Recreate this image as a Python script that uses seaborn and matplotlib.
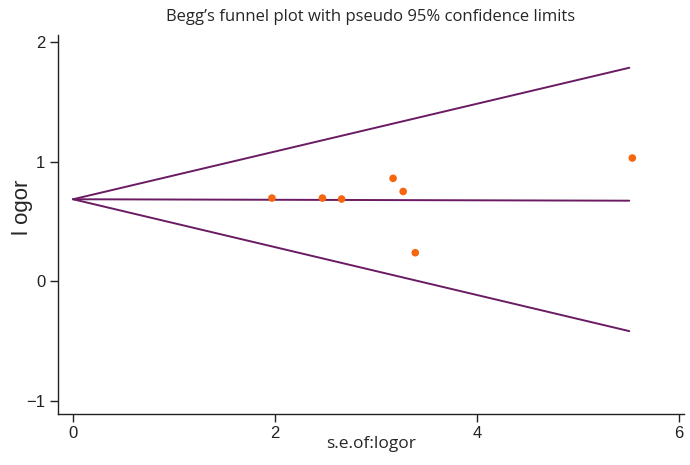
import numpy as np
import pandas as pd
import matplotlib
matplotlib.use("Agg")
import matplotlib.pyplot as plt
import seaborn as sns

# study points
se = [1.97, 2.47, 2.66, 3.17, 3.27, 3.39, 5.54]
logor = [0.695, 0.695, 0.687, 0.86, 0.75, 0.238, 1.03]

# funnel lines (start / end)
line_x = [0, 5.51]
upper_y = [0.685, 1.785]
center_y = [0.685, 0.673]
lower_y = [0.685, -0.418]

sns.set_style("ticks")
plt.rcParams['font.family'] = ['Liberation Sans', 'DejaVu Sans']

fig = plt.figure(figsize=(6.9, 4.65), dpi=100)
ax = fig.add_axes([0.084, 0.11, 0.907, 0.815])

lines = pd.DataFrame({
    'x': line_x * 3,
    'y': upper_y + center_y + lower_y,
    'g': ['upper'] * 2 + ['center'] * 2 + ['lower'] * 2,
})
for g, d in lines.groupby('g'):
    sns.lineplot(data=d, x='x', y='y', ax=ax, color='#6a1b63', lw=1.4,
                 estimator=None, sort=False)

pts = pd.DataFrame({'se': se, 'logor': logor})
sns.scatterplot(data=pts, x='se', y='logor', ax=ax, color='#f5660f',
                s=30, edgecolor='none', zorder=3)

ax.set_xlim(-0.15, 6.05)
ax.set_ylim(-1.11, 2.06)
ax.set_xticks([0, 2, 4, 6])
ax.set_yticks([-1, 0, 1, 2])
ax.set_yticklabels(['\u22121', '0', '1', '2'])
sns.despine(ax=ax)
for s in ['left', 'bottom']:
    ax.spines[s].set_linewidth(1.0)
    ax.spines[s].set_color('#222222')
ax.tick_params(axis='both', direction='out', length=6, width=1.0,
               labelsize=12, colors='#222222', pad=3)

ax.set_xlabel('s.e.of:logor', fontsize=12.5, family=['Open Sans', 'DejaVu Sans'],
              labelpad=-4)
ax.set_ylabel('l ogor', fontsize=16)
ax.yaxis.set_label_coords(-0.04, 0.546)
ax.set_title('Begg\u2019s funnel plot with pseudo 95% confidence limits',
             fontsize=12, family=['Open Sans', 'DejaVu Sans'], pad=10)

fig.savefig('out.png', dpi=100)
